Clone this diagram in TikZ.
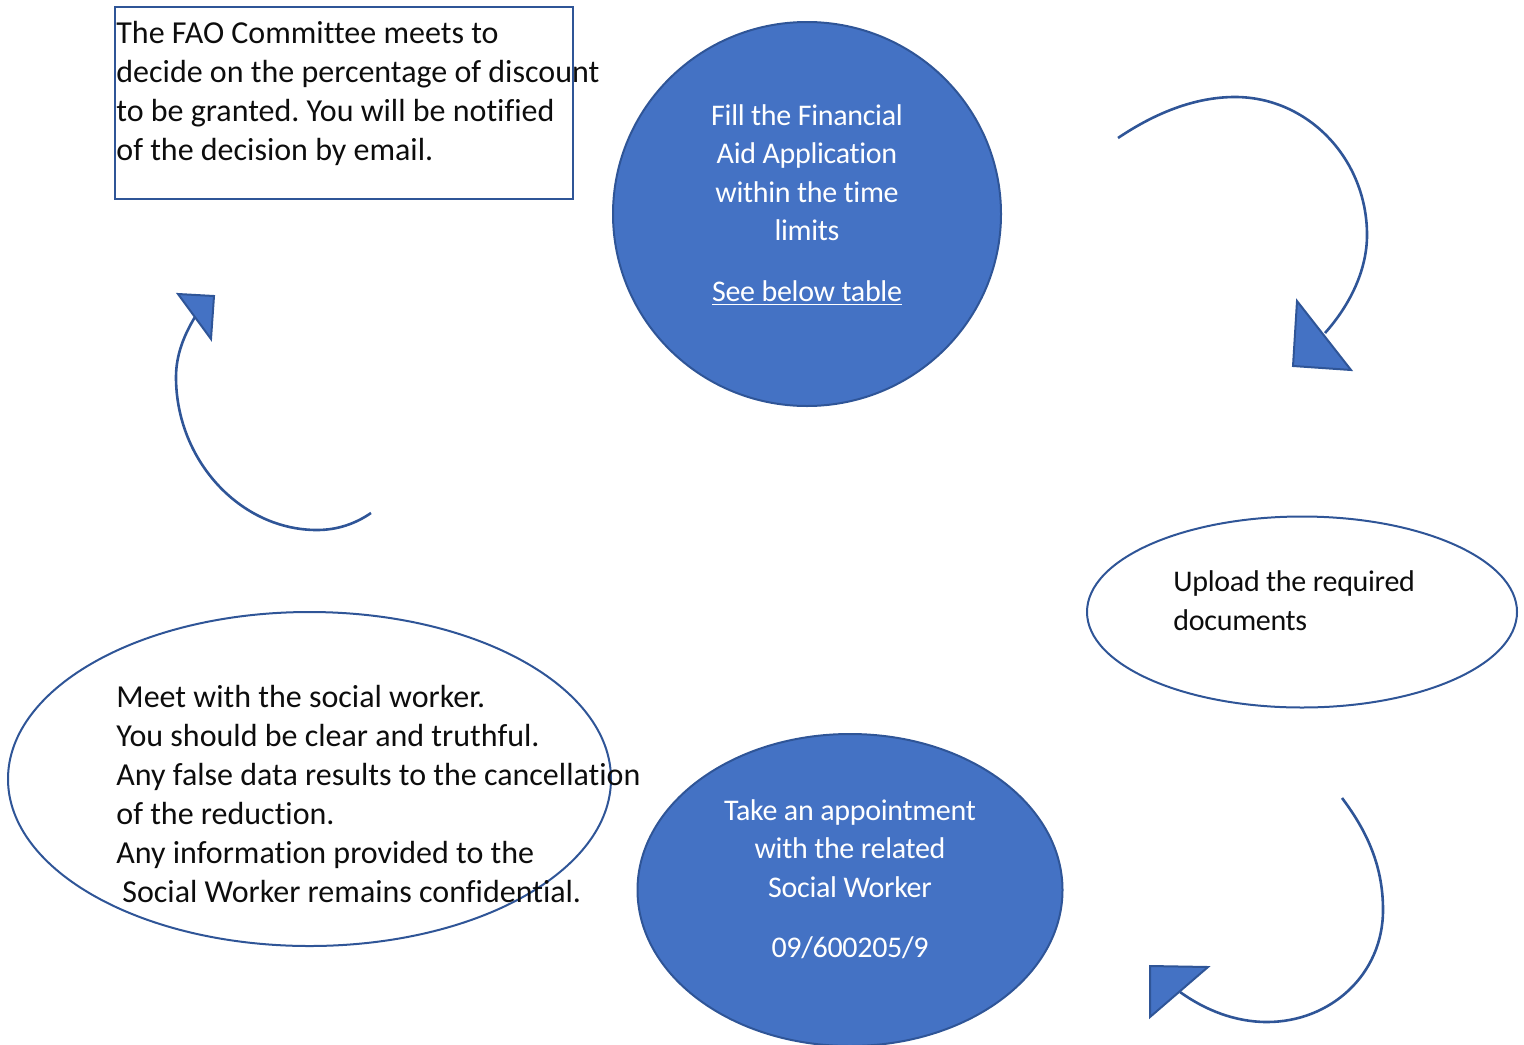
\documentclass[tikz,border=0pt]{standalone}
\usepackage{fontspec}
\setmainfont{Carlito}[Ligatures=NoCommon]
\usetikzlibrary{shapes.geometric}
\definecolor{officeblue}{HTML}{4472C4}
\definecolor{officeline}{HTML}{2F5597}
\definecolor{inktext}{HTML}{0D0D0D}
\frenchspacing

\tikzset{
    bluedisc/.style={ellipse, draw=officeline, fill=officeblue, line width=1pt, inner sep=0pt},
    whiteoval/.style={ellipse, draw=officeline, line width=1pt, inner sep=0pt},
    bodytext/.style={inner sep=0pt, align=left, text=inktext, font=\fontsize{16pt}{19.5pt}\selectfont},
    narrowtext/.style={inner sep=0pt, align=left, text=inktext, font=\fontsize{15pt}{19.5pt}\selectfont\addfontfeature{LetterSpace=-1}},
    disctext/.style={inner sep=0pt, align=center, text=white, font=\fontsize{15pt}{19.25pt}\selectfont\addfontfeature{LetterSpace=-1}},
    curvearrow/.style={draw=officeline, line width=1.3pt},
    arrowtip/.style={draw=officeline, fill=officeblue, line width=1pt, line join=miter}
}

\begin{document}
\begin{tikzpicture}[x=0.5pt, y=-0.5pt]
    \clip (0,0) rectangle (1524,1044);

    % Draw the steps as shapes
    \node[draw=officeline, line width=1pt, inner sep=0pt, minimum width=229pt, minimum height=96pt] (committee) at (344,103) {};
    \node[bluedisc, minimum width=194pt, minimum height=192pt] (apply) at (807,214) {};
    \node[whiteoval, minimum width=215pt, minimum height=95.5pt] (upload) at (1302,612) {};
    \node[bluedisc, minimum width=212.5pt, minimum height=156pt] (appoint) at (850,890) {};
    \node[whiteoval, minimum width=301.5pt, minimum height=167pt] (meet) at (309.5,779) {};

    % Texts of the steps
    \node[bodytext, anchor=west] (committeetext) at (116,93.5) {The FAO Committee meets to\\decide on the percentage of discount\\to be granted. You will be notified\\of the decision by email.};
    \node[disctext] (applytext) at (807,205) {Fill the Financial\\Aid Application\\within the time\\limits\\[11pt]\underline{See below table}};
    \node[narrowtext, anchor=west] (uploadtext) at (1173,601) {Upload the required\\documents};
    \node[disctext] (appointtext) at (850,879) {Take an appointment\\with the related\\Social Worker\\[11pt]09/600205/9};
    \node[bodytext, anchor=west] (meettext) at (116,794) {Meet with the social worker.\\You should be clear and truthful.\\Any false data results to the cancellation\\of the reduction.\\Any information provided to the\\\hspace*{3pt}Social Worker remains confidential.};

    % Curved arrows between the steps
    \coordinate (toprightstart) at (1118,138);
    \coordinate (toprightend) at (1325,333);
    \draw[curvearrow] (toprightstart) .. controls (1155,113) and (1195,97) .. (1235,97) .. controls (1308,97) and (1367,159) .. (1367,235) .. controls (1367,270) and (1350,305) .. (toprightend);
    \draw[arrowtip] (1297,301) -- (1293,366) -- (1351,370) -- cycle;

    \coordinate (botrightstart) at (1342,798);
    \coordinate (botrightend) at (1180,992);
    \draw[curvearrow] (botrightstart) .. controls (1370,835) and (1383,870) .. (1383,910) .. controls (1383,975) and (1330,1022) .. (1267,1022) .. controls (1235,1022) and (1205,1010) .. (botrightend);
    \draw[arrowtip] (1150,966) -- (1208,967) -- (1150,1017) -- cycle;

    \coordinate (leftstart) at (371,513);
    \coordinate (leftend) at (195,317);
    \draw[curvearrow] (leftstart) .. controls (355,524) and (337,530) .. (317,530) .. controls (240,530) and (176,460) .. (176,377) .. controls (176,355) and (184,335) .. (leftend);
    \draw[arrowtip] (178,294) -- (214,296) -- (211,339) -- cycle;
\end{tikzpicture}
\end{document}
